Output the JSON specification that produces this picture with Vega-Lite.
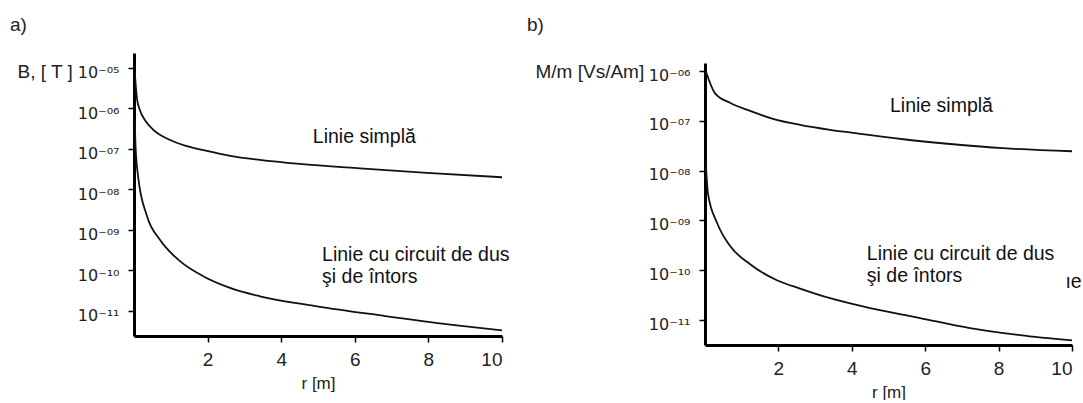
{
  "$schema": "https://vega.github.io/schema/vega-lite/v6.json",
  "padding": {"left": 10, "top": 16, "right": 0, "bottom": 0},
  "spacing": 17,
  "config": {
    "font": "Liberation Sans",
    "view": {"stroke": null},
    "axis": {
      "grid": false,
      "domainColor": "#000",
      "domainWidth": 3,
      "tickColor": "#000",
      "tickWidth": 1.5,
      "tickSize": 6,
      "labelColor": "#222",
      "labelFont": "Liberation Sans",
      "labelFontSize": 19,
      "titleColor": "#222",
      "titleFont": "Liberation Sans",
      "titleFontSize": 17,
      "titleFontWeight": "normal"
    },
    "title": {"font": "Liberation Sans", "fontSize": 19, "fontWeight": "normal", "color": "#222", "anchor": "start"},
    "text": {"font": "Liberation Sans", "fontSize": 19.5, "color": "#111"}
  },
  "datasets": {
    "a": [
      {"curve": "simpla", "r": 0.02, "v": 7.9e-6},
      {"curve": "simpla", "r": 0.08, "v": 1.78e-6},
      {"curve": "simpla", "r": 0.16, "v": 9.1e-7},
      {"curve": "simpla", "r": 0.3, "v": 5.1e-7},
      {"curve": "simpla", "r": 0.52, "v": 3.0e-7},
      {"curve": "simpla", "r": 0.98, "v": 1.66e-7},
      {"curve": "simpla", "r": 1.44, "v": 1.17e-7},
      {"curve": "simpla", "r": 1.98, "v": 8.9e-8},
      {"curve": "simpla", "r": 2.61, "v": 6.76e-8},
      {"curve": "simpla", "r": 3.42, "v": 5.37e-8},
      {"curve": "simpla", "r": 4.5, "v": 4.27e-8},
      {"curve": "simpla", "r": 6.14, "v": 3.31e-8},
      {"curve": "simpla", "r": 7.96, "v": 2.57e-8},
      {"curve": "simpla", "r": 10, "v": 2.0e-8},
      {"curve": "dus", "r": 0.02, "v": 5.0e-7},
      {"curve": "dus", "r": 0.04, "v": 1.26e-7},
      {"curve": "dus", "r": 0.11, "v": 2.14e-8},
      {"curve": "dus", "r": 0.35, "v": 2.24e-9},
      {"curve": "dus", "r": 0.71, "v": 5.6e-10},
      {"curve": "dus", "r": 1.25, "v": 1.7e-10},
      {"curve": "dus", "r": 1.88, "v": 7.2e-11},
      {"curve": "dus", "r": 2.61, "v": 3.7e-11},
      {"curve": "dus", "r": 3.42, "v": 2.3e-11},
      {"curve": "dus", "r": 4.97, "v": 1.3e-11},
      {"curve": "dus", "r": 6.77, "v": 7.6e-12},
      {"curve": "dus", "r": 8.59, "v": 4.6e-12},
      {"curve": "dus", "r": 10, "v": 3.3e-12}
    ],
    "b": [
      {"curve": "simpla", "r": 0.02, "v": 1.0e-6},
      {"curve": "simpla", "r": 0.27, "v": 3.6e-7},
      {"curve": "simpla", "r": 0.68, "v": 2.3e-7},
      {"curve": "simpla", "r": 1.23, "v": 1.58e-7},
      {"curve": "simpla", "r": 1.85, "v": 1.1e-7},
      {"curve": "simpla", "r": 2.59, "v": 8.3e-8},
      {"curve": "simpla", "r": 3.41, "v": 6.6e-8},
      {"curve": "simpla", "r": 4.03, "v": 5.75e-8},
      {"curve": "simpla", "r": 5.4, "v": 4.27e-8},
      {"curve": "simpla", "r": 6.76, "v": 3.39e-8},
      {"curve": "simpla", "r": 8.12, "v": 2.82e-8},
      {"curve": "simpla", "r": 10, "v": 2.45e-8},
      {"curve": "dus", "r": 0.02, "v": 1.55e-8},
      {"curve": "dus", "r": 0.08, "v": 3.5e-9},
      {"curve": "dus", "r": 0.33, "v": 8.9e-10},
      {"curve": "dus", "r": 0.68, "v": 3.1e-10},
      {"curve": "dus", "r": 1.23, "v": 1.32e-10},
      {"curve": "dus", "r": 1.96, "v": 6.3e-11},
      {"curve": "dus", "r": 2.59, "v": 4.3e-11},
      {"curve": "dus", "r": 3.41, "v": 2.75e-11},
      {"curve": "dus", "r": 4.5, "v": 1.74e-11},
      {"curve": "dus", "r": 5.86, "v": 1.1e-11},
      {"curve": "dus", "r": 7.22, "v": 6.9e-12},
      {"curve": "dus", "r": 8.58, "v": 5.0e-12},
      {"curve": "dus", "r": 10, "v": 3.9e-12}
    ],
    "labels_a": [
      {"r": 4.86, "v": 3.3e-7, "t": "Linie simplă"},
      {"r": 5.11, "v": 4.0e-10, "t": "Linie cu circuit de dus\nşi de întors"}
    ],
    "labels_b": [
      {"r": 5.04, "v": 3.0e-7, "t": "Linie simplă"},
      {"r": 4.41, "v": 3.2e-10, "t": "Linie cu circuit de dus\nşi de întors"},
      {"r": 9.82, "v": 9.0e-11, "t": "ıe"}
    ]
  },
  "hconcat": [
    {
      "title": {"text": "a)", "dx": -7, "offset": 18},
      "width": 368,
      "height": 283,
      "layer": [
        {
          "data": {"name": "a"},
          "mark": {"type": "line", "color": "#111", "strokeWidth": 1.8, "interpolate": "monotone"},
          "encoding": {
            "x": {"field": "r", "type": "quantitative",
                  "scale": {"domain": [0, 10], "nice": false},
                  "axis": {"values": [2, 4, 6, 8, 10], "title": "r [m]", "labelPadding": 8, "titlePadding": 6}},
            "y": {"field": "v", "type": "quantitative",
                  "scale": {"type": "log", "domain": [2.4e-12, 2.34e-5], "nice": false},
                  "axis": {"values": [1e-5, 1e-6, 1e-7, 1e-8, 1e-9, 1e-10, 1e-11],
                           "labelExpr": "'10' + (datum.value < 3e-11 ? '⁻¹¹' : datum.value < 3e-10 ? '⁻¹⁰' : datum.value < 3e-9 ? '⁻⁰⁹' : datum.value < 3e-8 ? '⁻⁰⁸' : datum.value < 3e-7 ? '⁻⁰⁷' : datum.value < 3e-6 ? '⁻⁰⁶' : '⁻⁰⁵')",
                           "labelFont": "DejaVu Sans", "labelFontSize": 16,
                           "labelPadding": 9, "labelBaseline": "middle", "labelOffset": 5,
                           "title": "B, [ T ]", "titleFontSize": 19, "titleAngle": 0, "titleAlign": "left", "titleBaseline": "middle",
                           "titleX": -117, "titleY": 18}},
            "detail": {"field": "curve"}
          }
        },
        {
          "data": {"name": "labels_a"},
          "mark": {"type": "text", "align": "left", "baseline": "top", "lineBreak": "\n", "lineHeight": 22},
          "encoding": {
            "x": {"field": "r", "type": "quantitative"},
            "y": {"field": "v", "type": "quantitative"},
            "text": {"field": "t"}
          }
        }
      ]
    },
    {
      "title": {"text": "b)", "dx": -8, "offset": 18},
      "width": 367,
      "height": 292,
      "layer": [
        {
          "data": {"name": "b"},
          "mark": {"type": "line", "color": "#111", "strokeWidth": 1.8, "interpolate": "monotone"},
          "encoding": {
            "x": {"field": "r", "type": "quantitative",
                  "scale": {"domain": [0, 10], "nice": false},
                  "axis": {"values": [2, 4, 6, 8, 10], "title": "r [m]", "labelPadding": 8, "titlePadding": 6}},
            "y": {"field": "v", "type": "quantitative",
                  "scale": {"type": "log", "domain": [3.16e-12, 2.3e-6], "nice": false},
                  "axis": {"values": [1e-6, 1e-7, 1e-8, 1e-9, 1e-10, 1e-11],
                           "domainDash": [282, 30],
                           "labelExpr": "'10' + (datum.value < 3e-11 ? '⁻¹¹' : datum.value < 3e-10 ? '⁻¹⁰' : datum.value < 3e-9 ? '⁻⁰⁹' : datum.value < 3e-8 ? '⁻⁰⁸' : datum.value < 3e-7 ? '⁻⁰⁷' : datum.value < 3e-6 ? '⁻⁰⁶' : '⁻⁰⁵')",
                           "labelFont": "DejaVu Sans", "labelFontSize": 16,
                           "labelPadding": 9, "labelBaseline": "middle", "labelOffset": 4,
                           "title": "M/m [Vs/Am]", "titleFontSize": 19, "titleAngle": 0, "titleAlign": "left", "titleBaseline": "middle",
                           "titleX": -170, "titleY": 18}},
            "detail": {"field": "curve"}
          }
        },
        {
          "data": {"name": "labels_b"},
          "mark": {"type": "text", "align": "left", "baseline": "top", "lineBreak": "\n", "lineHeight": 22},
          "encoding": {
            "x": {"field": "r", "type": "quantitative"},
            "y": {"field": "v", "type": "quantitative"},
            "text": {"field": "t"}
          }
        }
      ]
    }
  ]
}
